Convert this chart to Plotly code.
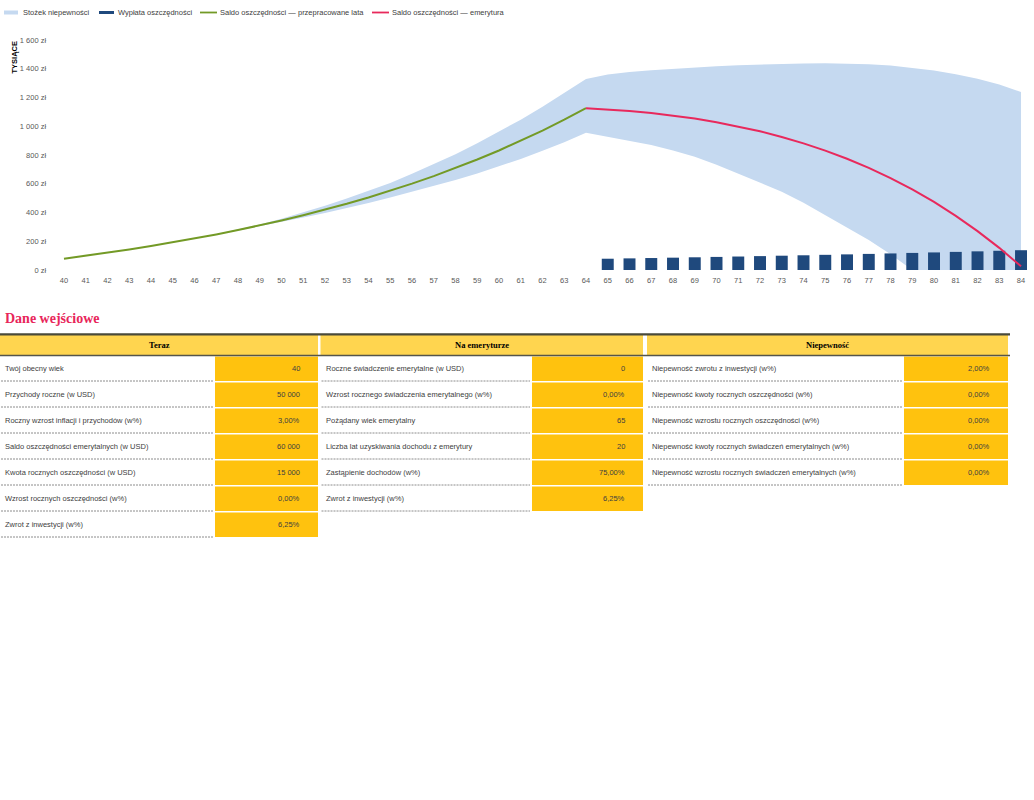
import plotly.graph_objects as go

# ---------------- DATA ----------------
work_ages = list(range(40, 65))
saldo_work = [78.8, 98.7, 119.8, 142.3, 166.2, 191.6, 218.6, 247.3, 277.7, 310.1,
              344.5, 381.0, 419.8, 461.0, 504.8, 551.4, 600.9, 653.4, 709.2, 768.6,
              831.6, 898.6, 969.8, 1045.4, 1125.7]

ret_ages = list(range(64, 85))
saldo_ret = [1125.7, 1117.5, 1106.5, 1092.4, 1074.9, 1053.7, 1028.5, 999.0, 964.9, 925.7,
             881.2, 830.7, 773.9, 710.4, 639.4, 560.6, 473.4, 376.9, 270.7, 154.0, 25.9]

payout_ages = list(range(65, 85))
payout = [78.5, 80.9, 83.3, 85.8, 88.4, 91.0, 93.8, 96.6, 99.5, 102.4,
          105.5, 108.7, 112.0, 115.3, 118.8, 122.3, 126.0, 129.8, 133.7, 137.7]

cone_ages = list(range(40, 85))
cone_upper = [78.8, 98.7, 119.8, 142.3, 166.2, 191.6, 219.5, 248, 281, 317,
              356, 400, 447, 497, 550, 606, 669, 735, 806, 882,
              962, 1046, 1135, 1229, 1329, 1360, 1378, 1390, 1400, 1410,
              1418, 1424, 1430, 1434, 1437, 1438, 1437, 1432, 1422, 1407,
              1388, 1362, 1330, 1290, 1238]
cone_lower = [78.8, 98.7, 119.8, 142.3, 166.2, 191.6, 217.8, 246, 275, 304,
              334, 365, 397, 430, 466, 504, 543, 583, 626, 672,
              720, 773, 829, 889, 955, 928, 900, 870, 832, 788,
              733, 672, 610, 545, 468, 383, 298, 209, 110, 0,
              0, 0, 0, 0, 0]

y_ticks = [0, 200, 400, 600, 800, 1000, 1200, 1400, 1600]
y_ticktext = ["0 zł", "200 zł", "400 zł", "600 zł", "800 zł", "1 000 zł", "1 200 zł", "1 400 zł", "1 600 zł"]

legend_names = ["Stożek niepewności", "Wypłata oszczędności",
                "Saldo oszczędności — przepracowane lata",
                "Saldo oszczędności — emerytura"]

teraz_labels = ["Twój obecny wiek", "Przychody roczne (w USD)",
                "Roczny wzrost inflacji i przychodów (w%)",
                "Saldo oszczędności emerytalnych (w USD)",
                "Kwota rocznych oszczędności (w USD)",
                "Wzrost rocznych oszczędności (w%)", "Zwrot z inwestycji (w%)"]
teraz_values = ["40", "50 000", "3,00%", "60 000", "15 000", "0,00%", "6,25%"]

emer_labels = ["Roczne świadczenie emerytalne (w USD)",
               "Wzrost rocznego świadczenia emerytalnego (w%)",
               "Pożądany wiek emerytalny",
               "Liczba lat uzyskiwania dochodu z emerytury",
               "Zastąpienie dochodów (w%)", "Zwrot z inwestycji (w%)"]
emer_values = ["0", "0,00%", "65", "20", "75,00%", "6,25%"]

niep_labels = ["Niepewność zwrotu z inwestycji (w%)",
               "Niepewność kwoty rocznych oszczędności (w%)",
               "Niepewność wzrostu rocznych oszczędności (w%)",
               "Niepewność kwoty rocznych świadczeń emerytalnych (w%)",
               "Niepewność wzrostu rocznych świadczeń emerytalnych (w%)"]
niep_values = ["2,00%", "0,00%", "0,00%", "0,00%", "0,00%"]

headers = ["Teraz", "Na emeryturze", "Niepewność"]

# ---------------- STYLE ----------------
W, H = 1034, 800
SANS = "Liberation Sans, Arial, sans-serif"
SERIF = "Liberation Serif, Times New Roman, serif"
BAND = "rgb(197,217,240)"
NAVY = "#1F497D"
GREEN = "#739A26"
RED = "#E8295C"
TXT = "#404040"
TICK = "#595959"
HDR_FILL = "#FFD54F"
VAL_FILL = "#FFC20E"


def px(x):
    return x / W


def py(y):
    return 1 - y / H


fig = go.Figure()
# band on base axes (drawn below), marks on overlay axes (drawn above)
fig.add_trace(go.Scatter(x=cone_ages, y=cone_lower, mode="lines",
                         line=dict(width=0, color=BAND), showlegend=False,
                         hoverinfo="skip"))
fig.add_trace(go.Scatter(x=cone_ages, y=cone_upper, mode="lines",
                         line=dict(width=0, color=BAND), fill="tonexty",
                         fillcolor=BAND, name=legend_names[0]))
fig.add_trace(go.Bar(x=payout_ages, y=payout, width=0.55,
                     marker=dict(color=NAVY, line=dict(width=0)),
                     name=legend_names[1], xaxis="x2", yaxis="y2"))
fig.add_trace(go.Scatter(x=work_ages, y=saldo_work, mode="lines",
                         line=dict(color=GREEN, width=2),
                         name=legend_names[2], xaxis="x2", yaxis="y2"))
fig.add_trace(go.Scatter(x=ret_ages, y=saldo_ret, mode="lines",
                         line=dict(color=RED, width=2),
                         name=legend_names[3], xaxis="x2", yaxis="y2"))

shapes = []
annots = []

# ---------------- LEGEND (drawn manually) ----------------
LEG_Y = 12.5
leg_items = [  # (kind, colour, swatch x0, swatch x1, text x)
    ("rect", BAND, 4, 18, 20.5, 4.0),
    ("rect", NAVY, 99, 114, 115.5, 3.0),
    ("line", GREEN, 200, 217, 218, 1.8),
    ("line", RED, 372, 389, 390, 1.8),
]
for name, (kind, col, sx0, sx1, tx, th) in zip(legend_names, leg_items):
    if kind == "rect":
        shapes.append(dict(type="rect", xref="paper", yref="paper",
                           x0=px(sx0), x1=px(sx1), y0=py(LEG_Y + th / 2),
                           y1=py(LEG_Y - th / 2), fillcolor=col, line=dict(width=0)))
    else:
        shapes.append(dict(type="line", xref="paper", yref="paper",
                           x0=px(sx0), x1=px(sx1), y0=py(LEG_Y), y1=py(LEG_Y),
                           line=dict(color=col, width=th)))
    annots.append(dict(xref="paper", yref="paper", x=px(tx), y=py(LEG_Y),
                       text=name, showarrow=False, xanchor="left", yanchor="middle",
                       font=dict(family=SANS, size=7.5, color=TXT)))

# ---------------- TABLE (shapes + annotations) ----------------
groups = [
    (headers[0], teraz_labels, teraz_values, 0, 213, 215, 318),
    (headers[1], emer_labels, emer_values, 320.5, 530, 532, 643),
    (headers[2], niep_labels, niep_values, 647, 902, 904, 1008),
]
HDR_TOP, HDR_BOT = 335, 355
ROW0, ROWH = 356, 26

for title, labels, values, lx0, lx1, vx0, vx1 in groups:
    shapes.append(dict(type="rect", xref="paper", yref="paper",
                       x0=px(lx0), x1=px(vx1), y0=py(HDR_BOT), y1=py(HDR_TOP),
                       fillcolor=HDR_FILL, line=dict(width=0), layer="below"))
    annots.append(dict(xref="paper", yref="paper", x=px((lx0 + vx1) / 2),
                       y=py((HDR_TOP + HDR_BOT) / 2), text="<b>%s</b>" % title,
                       showarrow=False, xanchor="center", yanchor="middle",
                       font=dict(family=SERIF, size=8.5, color="#000000")))
    for i, (lab, val) in enumerate(zip(labels, values)):
        top = ROW0 + ROWH * i
        shapes.append(dict(type="rect", xref="paper", yref="paper",
                           x0=px(vx0), x1=px(vx1), y0=py(top + 25), y1=py(top + 0.5),
                           fillcolor=VAL_FILL, line=dict(width=0), layer="below"))
        shapes.append(dict(type="line", xref="paper", yref="paper",
                           x0=px(lx0 + 1), x1=px(lx1), y0=py(top + 25), y1=py(top + 25),
                           line=dict(color="#8C8C8C", width=1, dash="2px,1px")))
        annots.append(dict(xref="paper", yref="paper", x=px(lx0 + 3),
                           y=py(top + 12.5), text=lab, showarrow=False,
                           xanchor="left", yanchor="middle",
                           font=dict(family=SANS, size=7.5, color=TXT)))
        annots.append(dict(xref="paper", yref="paper", x=px(vx1 - 16),
                           y=py(top + 12.5), text=val, showarrow=False,
                           xanchor="right", yanchor="middle",
                           font=dict(family=SANS, size=7.5, color=TXT)))

# header borders
shapes.append(dict(type="line", xref="paper", yref="paper", x0=px(0), x1=px(1010),
                   y0=py(334.3), y1=py(334.3), line=dict(color="#4A4A3A", width=2.2)))
shapes.append(dict(type="line", xref="paper", yref="paper", x0=px(0), x1=px(1010),
                   y0=py(355.5), y1=py(355.5), line=dict(color="#55554A", width=1.4)))

# section title
annots.append(dict(xref="paper", yref="paper", x=px(3), y=py(318),
                   text="<b>Dane wejściowe</b>", showarrow=False,
                   xanchor="left", yanchor="middle",
                   font=dict(family=SERIF, size=14, color="#E8265A")))

# y axis title
annots.append(dict(xref="paper", yref="paper", x=px(14), y=py(57.5),
                   text="<b>TYSIĄCE</b>", showarrow=False, textangle=-90,
                   xanchor="center", yanchor="middle",
                   font=dict(family=SANS, size=7.5, color="#000000")))

XDOM = [px(53.1), px(1031.9)]
XR = [39.5, 84.5]
YDOM = [py(270), py(40)]
YR = [0, 1600]

fig.update_layout(
    template="none",
    width=W, height=H,
    margin=dict(l=0, r=0, t=0, b=0),
    paper_bgcolor="white", plot_bgcolor="white",
    font=dict(family=SANS, size=7.5, color=TXT),
    barmode="overlay",
    showlegend=False,
    xaxis=dict(domain=XDOM, range=XR,
               tickmode="array", tickvals=cone_ages,
               ticktext=[str(a) for a in cone_ages],
               showgrid=False, zeroline=False, showline=False, ticks="",
               tickfont=dict(family=SANS, size=7.5, color=TICK),
               ticklabelstandoff=4, automargin=False, fixedrange=True),
    yaxis=dict(domain=YDOM, range=YR,
               tickmode="array", tickvals=y_ticks, ticktext=y_ticktext,
               showgrid=False, zeroline=False, showline=False, ticks="",
               tickfont=dict(family=SANS, size=7.5, color=TICK),
               ticklabelstandoff=6, automargin=False, fixedrange=True),
    xaxis2=dict(overlaying="x", anchor="y2", range=XR, visible=False,
                showgrid=False, zeroline=False, fixedrange=True),
    yaxis2=dict(overlaying="y", anchor="x2", range=YR, visible=False,
                showgrid=False, zeroline=False, fixedrange=True),
    shapes=shapes,
    annotations=annots,
)

fig.write_html("out.html", config={"displayModeBar": False},
               post_script="document.body.style.margin='0';document.body.style.overflow='hidden';")
